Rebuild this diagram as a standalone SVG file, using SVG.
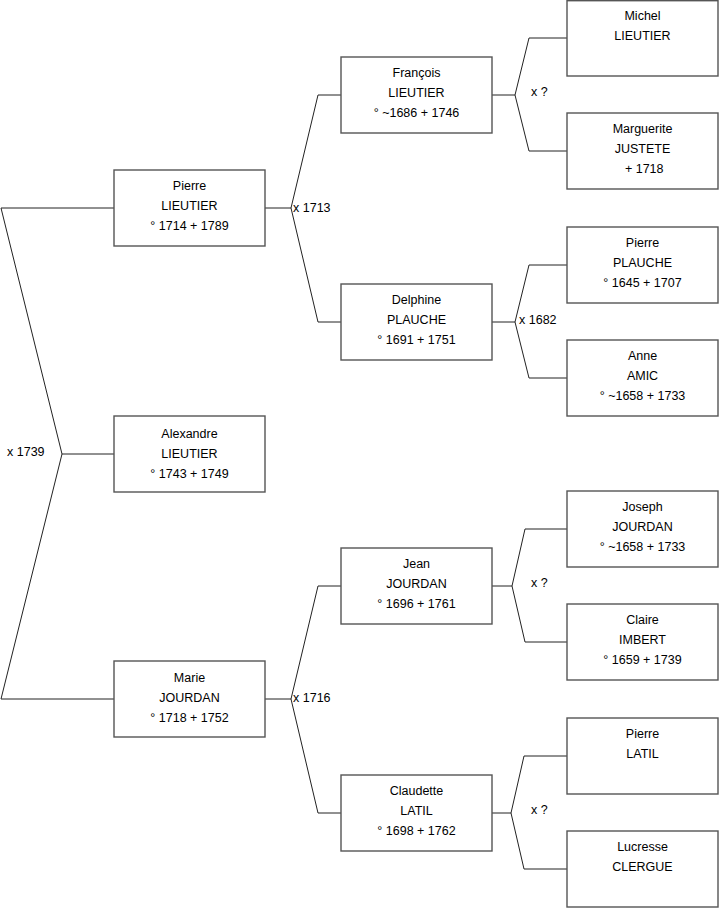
<svg xmlns="http://www.w3.org/2000/svg" width="719" height="908" viewBox="0 0 719 908">
<style>
.box{fill:#fff;stroke:#555;stroke-width:1.4}
.t{font-family:"Liberation Sans",Arial,sans-serif;font-size:12.5px;fill:#000;text-anchor:middle}
.l{font-family:"Liberation Sans",Arial,sans-serif;font-size:12.5px;fill:#000}
.c{fill:none;stroke:#222;stroke-width:1}
</style>
<rect width="719" height="908" fill="#fff"/>
<g id="connectors">
<polyline class="c" points="114,208 1,208 62,454 1,699 114,699"/>
<line class="c" x1="62" y1="454" x2="114" y2="454"/>
<polyline class="c" points="265,208 291,208"/>
<polyline class="c" points="341,95 318,95 291,208 318,322 341,322"/>
<polyline class="c" points="265,699 291,699"/>
<polyline class="c" points="341,586 318,586 291,699 318,813 341,813"/>
<polyline class="c" points="492,95 515,95"/>
<polyline class="c" points="567,38 529,38 515,95 529,151 567,151"/>
<polyline class="c" points="492,322 515,322"/>
<polyline class="c" points="567,265 529,265 515,322 529,378 567,378"/>
<polyline class="c" points="492,586 512,586"/>
<polyline class="c" points="567,529 525,529 512,586 525,642 567,642"/>
<polyline class="c" points="492,813 511,813"/>
<polyline class="c" points="567,756 524,756 511,813 524,869 567,869"/>
<text class="l" x="7" y="456">x 1739</text>
<text class="l" x="293" y="212">x 1713</text>
<text class="l" x="293" y="702">x 1716</text>
<text class="l" x="531" y="96">x ?</text>
<text class="l" x="519" y="324">x 1682</text>
<text class="l" x="531" y="587">x ?</text>
<text class="l" x="531" y="814">x ?</text>
</g>
<g id="pierre-lieutier">
<rect class="box" x="114" y="170" width="151" height="76"/>
<text class="t" x="189.5" y="190">Pierre</text>
<text class="t" x="189.5" y="210">LIEUTIER</text>
<text class="t" x="189.5" y="230">° 1714 + 1789</text>
</g>
<g id="alexandre-lieutier">
<rect class="box" x="114" y="416" width="151" height="76"/>
<text class="t" x="189.5" y="438">Alexandre</text>
<text class="t" x="189.5" y="458">LIEUTIER</text>
<text class="t" x="189.5" y="478">° 1743 + 1749</text>
</g>
<g id="marie-jourdan">
<rect class="box" x="114" y="661" width="151" height="76"/>
<text class="t" x="189.5" y="682">Marie</text>
<text class="t" x="189.5" y="702">JOURDAN</text>
<text class="t" x="189.5" y="722">° 1718 + 1752</text>
</g>
<g id="francois-lieutier">
<rect class="box" x="341" y="57" width="151" height="76"/>
<text class="t" x="416.5" y="77">François</text>
<text class="t" x="416.5" y="97">LIEUTIER</text>
<text class="t" x="416.5" y="117">° ~1686 + 1746</text>
</g>
<g id="delphine-plauche">
<rect class="box" x="341" y="284" width="151" height="76"/>
<text class="t" x="416.5" y="304">Delphine</text>
<text class="t" x="416.5" y="324">PLAUCHE</text>
<text class="t" x="416.5" y="344">° 1691 + 1751</text>
</g>
<g id="jean-jourdan">
<rect class="box" x="341" y="548" width="151" height="76"/>
<text class="t" x="416.5" y="568">Jean</text>
<text class="t" x="416.5" y="588">JOURDAN</text>
<text class="t" x="416.5" y="608">° 1696 + 1761</text>
</g>
<g id="claudette-latil">
<rect class="box" x="341" y="775" width="151" height="76"/>
<text class="t" x="416.5" y="795">Claudette</text>
<text class="t" x="416.5" y="815">LATIL</text>
<text class="t" x="416.5" y="835">° 1698 + 1762</text>
</g>
<g id="michel-lieutier">
<rect class="box" x="567" y="0.7" width="151" height="75.3"/>
<text class="t" x="642.5" y="20">Michel</text>
<text class="t" x="642.5" y="40">LIEUTIER</text>
</g>
<g id="marguerite-justete">
<rect class="box" x="567" y="113" width="151" height="76"/>
<text class="t" x="642.5" y="133">Marguerite</text>
<text class="t" x="642.5" y="153">JUSTETE</text>
<text class="t" x="642.5" y="173" xml:space="preserve"> + 1718</text>
</g>
<g id="pierre-plauche">
<rect class="box" x="567" y="227" width="151" height="76"/>
<text class="t" x="642.5" y="247">Pierre</text>
<text class="t" x="642.5" y="267">PLAUCHE</text>
<text class="t" x="642.5" y="287">° 1645 + 1707</text>
</g>
<g id="anne-amic">
<rect class="box" x="567" y="340" width="151" height="76"/>
<text class="t" x="642.5" y="360">Anne</text>
<text class="t" x="642.5" y="380">AMIC</text>
<text class="t" x="642.5" y="400">° ~1658 + 1733</text>
</g>
<g id="joseph-jourdan">
<rect class="box" x="567" y="491" width="151" height="76"/>
<text class="t" x="642.5" y="511">Joseph</text>
<text class="t" x="642.5" y="531">JOURDAN</text>
<text class="t" x="642.5" y="551">° ~1658 + 1733</text>
</g>
<g id="claire-imbert">
<rect class="box" x="567" y="604" width="151" height="76"/>
<text class="t" x="642.5" y="624">Claire</text>
<text class="t" x="642.5" y="644">IMBERT</text>
<text class="t" x="642.5" y="664">° 1659 + 1739</text>
</g>
<g id="pierre-latil">
<rect class="box" x="567" y="718" width="151" height="76"/>
<text class="t" x="642.5" y="738">Pierre</text>
<text class="t" x="642.5" y="758">LATIL</text>
</g>
<g id="lucresse-clergue">
<rect class="box" x="567" y="831" width="151" height="76"/>
<text class="t" x="642.5" y="851">Lucresse</text>
<text class="t" x="642.5" y="871">CLERGUE</text>
</g>
</svg>
